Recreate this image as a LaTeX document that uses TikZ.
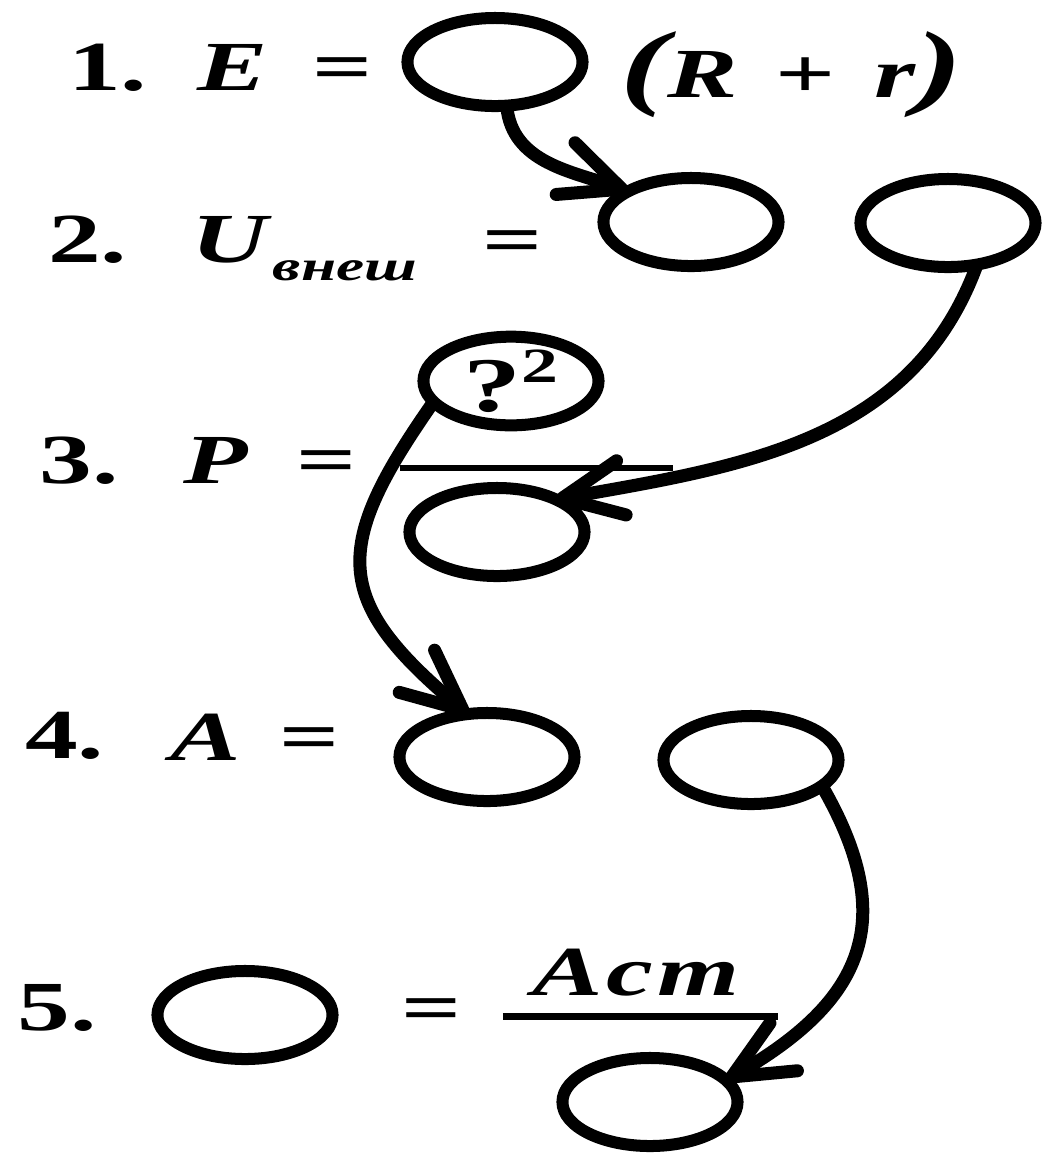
\documentclass[tikz,border=0pt]{standalone}
\usepackage{fontspec}
\setmainfont{Liberation Serif}[FakeStretch=1.5]
\usetikzlibrary{positioning}
\usetikzlibrary{shapes.geometric}
\usetikzlibrary{arrows.meta}

\newcommand{\bigfont}{\fontsize{20}{24}\selectfont}
\newcommand{\parfont}{\fontsize{27}{27}\selectfont}

\begin{document}
\begin{tikzpicture}[x=0.01cm, y=0.01cm,
                    every node/.style={inner sep=0pt, outer sep=0pt},
                    blank/.style={ellipse, draw, line width=1.2mm,
                                  minimum width=17.5mm, minimum height=8.8mm},
                    num/.style={anchor=base west, font=\bigfont\bfseries},
                    sym/.style={anchor=base west, font=\bigfont\bfseries\itshape},
                    link/.style={line width=1.3mm,
                                 -{Straight Barb[length=6mm, width=5.5mm, round]}}]

  \useasboundingbox (0,0) rectangle (1041,-1153);

  % 1
  \node[num] (n1) at (68,-90) {1.};
  \node[sym] (E) at (198,-90) {E};
  \node[num] (eq1) at (313,-90) {=};
  \node[blank] (e1) at (495,-62) {};
  \node[sym] (Rr) at (620,-97)
    {{\parfont(}R\, {\upshape+}\, r{\parfont)}};

  % 2
  \node[num] (n2) at (48,-262) {2.};
  \node[sym] (U) at (192,-262) {U};
  \node[sym, font=\fontsize{12}{12}\selectfont\bfseries\itshape] (Usub) at (273,-280) {внеш};
  \node[num] (eq2) at (482,-263) {=};
  \node[blank] (e2a) at (691,-222) {};
  \node[blank] (e2b) at (948,-223) {};

  % 3
  \node[num] (n3) at (40,-483) {3.};
  \node[sym] (P) at (183,-483) {P};
  \node[num] (eq3) at (297,-483) {=};
  \node[blank, font=\fontsize{22}{24}\selectfont\bfseries] (e3a) at (511,-381)
    {?\raisebox{2.9mm}{\fontsize{14}{14}\selectfont 2}};
  \coordinate (f3l) at (400,-468);
  \coordinate (f3r) at (673,-468);
  \draw[line width=0.6mm] (f3l) -- (f3r);
  \node[blank] (e3b) at (497,-532) {};

  % 4
  \node[num] (n4) at (25,-758) {4.};
  \node[sym] (A) at (170,-760) {A};
  \node[num] (eq4) at (280,-760) {=};
  \node[blank] (e4a) at (487,-757) {};
  \node[blank] (e4b) at (751,-760) {};

  % 5
  \node[num] (n5) at (18,-1030) {5.};
  \node[blank] (e5a) at (245,-1015) {};
  \node[num] (eq5) at (402,-1031) {=};
  \node[sym] (Acm) at (533,-995) {A\kern1pt c\kern1pt m};
  \coordinate (f5l) at (503,-1016);
  \coordinate (f5r) at (778,-1016);
  \draw[line width=0.7mm] (f5l) -- (f5r);
  \node[blank] (e5b) at (650,-1102) {};

  \path[link]
    (e1.-75)   edge[out=-85, in=160]                  (e2a.154)
    (e2b.-55)  edge[out=-110, in=10]                  (e3b.29)
    (e3a.-165) edge[out=-125, in=140, looseness=1.45] (e4a.114)
    (e4b.-20)  edge[out=-60, in=30, looseness=1.3]    (e5b.16);

\end{tikzpicture}
\end{document}
